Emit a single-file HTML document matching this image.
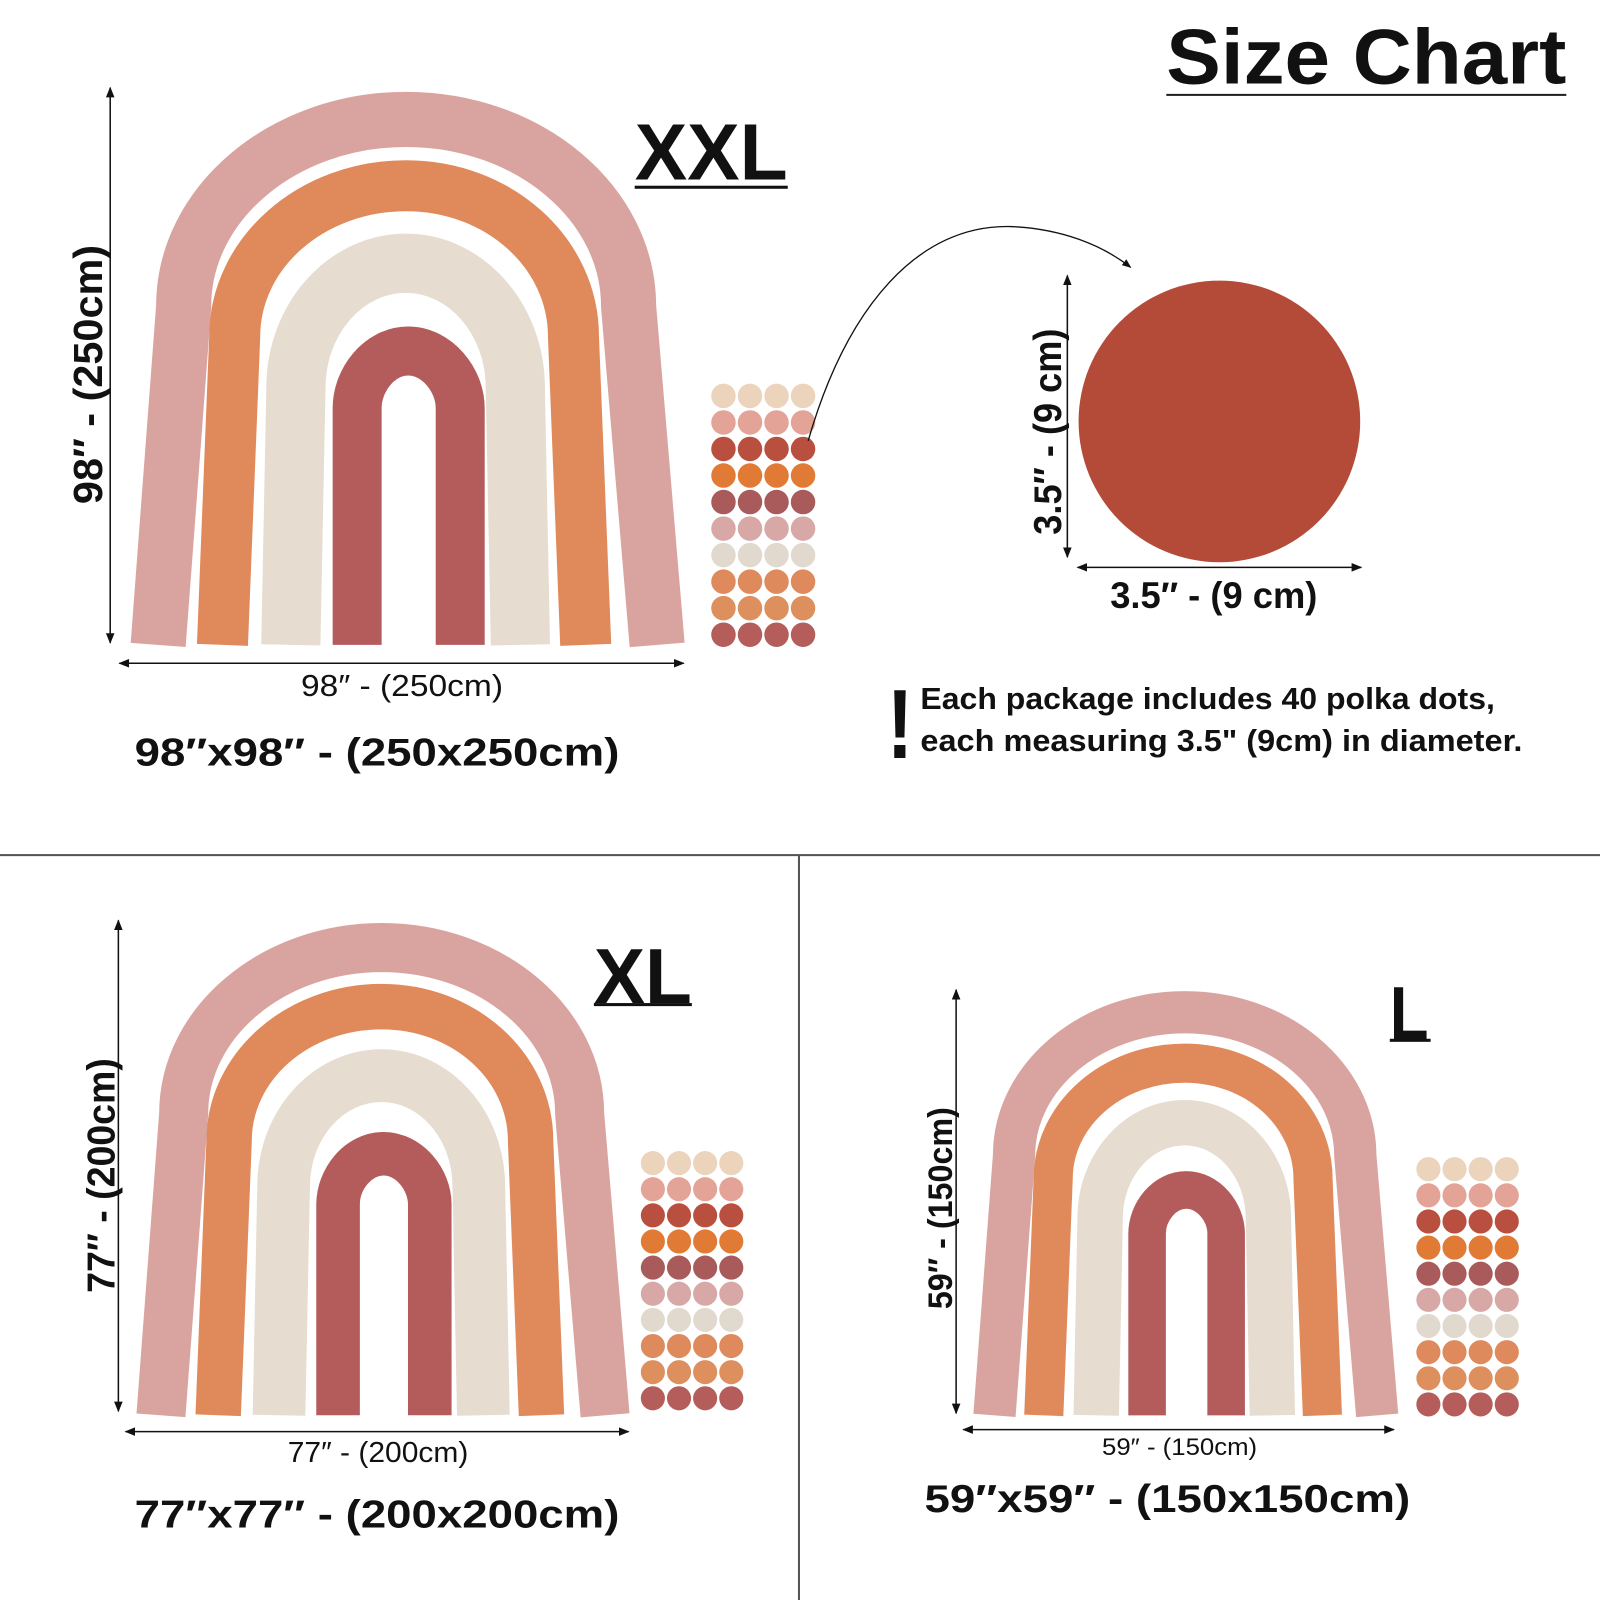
<!DOCTYPE html>
<html><head><meta charset="utf-8"><style>html,body{margin:0;padding:0;background:#fff}svg{display:block}text{font-family:"Liberation Sans",sans-serif;font-weight:bold;fill:#111}</style></head>
<body>
<svg width="1600" height="1600" viewBox="0 0 1568 1568" xmlns="http://www.w3.org/2000/svg">
<defs>
<marker id="ar" viewBox="0 0 10 10" refX="9" refY="5" markerWidth="7" markerHeight="7" orient="auto-start-reverse"><path d="M0,1 L10,5 L0,9 z" fill="#111"/></marker>
<g id="rb" fill="none" stroke-linecap="butt">
<path d="M155,632 L180,300 C180,199 278,117 398,117 C518,117 616,199 616,300 L644,632" stroke="#d9a4a0" stroke-width="54"/>
<path d="M218,632 L230,330 C230,248 305,182 398,182 C489,182 562,248 562,330 L574,632" stroke="#e08a5c" stroke-width="50"/>
<path d="M285,632 L290,380 C290,313 338,258 398,258 C457,258 505,313 505,380 L510,632" stroke="#e6dccf" stroke-width="58"/>
<path d="M350,632 L350,400 C350,372 372,344 400,344 C428,344 451,372 451,400 L451,632" stroke="#b45c5c" stroke-width="48"/>
</g>
<g id="dots">
<g fill="#ecd3bc"><circle cx="12" cy="12" r="12"/><circle cx="38" cy="12" r="12"/><circle cx="64" cy="12" r="12"/><circle cx="90" cy="12" r="12"/></g>
<g fill="#e3a497" transform="translate(0,26)"><circle cx="12" cy="12" r="12"/><circle cx="38" cy="12" r="12"/><circle cx="64" cy="12" r="12"/><circle cx="90" cy="12" r="12"/></g>
<g fill="#b9503f" transform="translate(0,52)"><circle cx="12" cy="12" r="12"/><circle cx="38" cy="12" r="12"/><circle cx="64" cy="12" r="12"/><circle cx="90" cy="12" r="12"/></g>
<g fill="#e07a34" transform="translate(0,78)"><circle cx="12" cy="12" r="12"/><circle cx="38" cy="12" r="12"/><circle cx="64" cy="12" r="12"/><circle cx="90" cy="12" r="12"/></g>
<g fill="#a95a5a" transform="translate(0,104)"><circle cx="12" cy="12" r="12"/><circle cx="38" cy="12" r="12"/><circle cx="64" cy="12" r="12"/><circle cx="90" cy="12" r="12"/></g>
<g fill="#d7a8a6" transform="translate(0,130)"><circle cx="12" cy="12" r="12"/><circle cx="38" cy="12" r="12"/><circle cx="64" cy="12" r="12"/><circle cx="90" cy="12" r="12"/></g>
<g fill="#e2d9ce" transform="translate(0,156)"><circle cx="12" cy="12" r="12"/><circle cx="38" cy="12" r="12"/><circle cx="64" cy="12" r="12"/><circle cx="90" cy="12" r="12"/></g>
<g fill="#de8a5c" transform="translate(0,182)"><circle cx="12" cy="12" r="12"/><circle cx="38" cy="12" r="12"/><circle cx="64" cy="12" r="12"/><circle cx="90" cy="12" r="12"/></g>
<g fill="#dd8f5e" transform="translate(0,208)"><circle cx="12" cy="12" r="12"/><circle cx="38" cy="12" r="12"/><circle cx="64" cy="12" r="12"/><circle cx="90" cy="12" r="12"/></g>
<g fill="#b45d5b" transform="translate(0,234)"><circle cx="12" cy="12" r="12"/><circle cx="38" cy="12" r="12"/><circle cx="64" cy="12" r="12"/><circle cx="90" cy="12" r="12"/></g>
</g>
</defs>

<text x="1143" y="82" font-size="76" textLength="392" lengthAdjust="spacingAndGlyphs">Size Chart</text>
<rect x="1143" y="92" width="392" height="2" fill="#222"/>

<use href="#rb"/>
<use href="#dots" transform="translate(697,376)"/>
<text x="622" y="176" font-size="78" textLength="150" lengthAdjust="spacingAndGlyphs">XXL</text>
<rect x="622" y="182" width="150" height="3" fill="#111"/>
<line x1="108" y1="86" x2="108" y2="630" stroke="#111" stroke-width="1.5" marker-start="url(#ar)" marker-end="url(#ar)"/>
<text transform="translate(100,494) rotate(-90)" font-size="40" textLength="254" lengthAdjust="spacingAndGlyphs">98″ - (250cm)</text>
<line x1="117" y1="650" x2="670" y2="650" stroke="#111" stroke-width="1.5" marker-start="url(#ar)" marker-end="url(#ar)"/>
<text x="295" y="682" font-size="30" textLength="198" lengthAdjust="spacingAndGlyphs" style="font-weight:normal">98″ - (250cm)</text>
<text x="132" y="750" font-size="38" textLength="475" lengthAdjust="spacingAndGlyphs">98″x98″ - (250x250cm)</text>

<path d="M792,432 C830,300 900,220 990,222 C1040,224 1080,240 1108,262" fill="none" stroke="#111" stroke-width="1.3" marker-end="url(#ar)"/>
<circle cx="1195" cy="413" r="138" fill="#b44a38"/>
<line x1="1046" y1="270" x2="1046" y2="546" stroke="#111" stroke-width="1.5" marker-start="url(#ar)" marker-end="url(#ar)"/>
<text transform="translate(1040,524) rotate(-90)" font-size="38" textLength="202" lengthAdjust="spacingAndGlyphs">3.5″ - (9 cm)</text>
<line x1="1056" y1="556" x2="1334" y2="556" stroke="#111" stroke-width="1.5" marker-start="url(#ar)" marker-end="url(#ar)"/>
<text x="1088" y="596" font-size="36" textLength="203" lengthAdjust="spacingAndGlyphs">3.5″ - (9 cm)</text>

<text x="869" y="743" font-size="96" textLength="26" lengthAdjust="spacingAndGlyphs">!</text>
<text x="902" y="695" font-size="30" textLength="563" lengthAdjust="spacingAndGlyphs">Each package includes 40 polka dots,</text>
<text x="902" y="736" font-size="30" textLength="590" lengthAdjust="spacingAndGlyphs">each measuring 3.5" (9cm) in diameter.</text>

<rect x="0" y="837" width="1568" height="2" fill="#555"/>
<rect x="782" y="838" width="2" height="730" fill="#555"/>

<use href="#rb" transform="translate(19.8,824.5) scale(0.89)"/>
<use href="#dots" transform="translate(628,1128) scale(0.985)"/>
<text x="582" y="983" font-size="76" textLength="96" lengthAdjust="spacingAndGlyphs">XL</text>
<rect x="582" y="983" width="96" height="3" fill="#111"/>
<line x1="116" y1="902" x2="116" y2="1383" stroke="#111" stroke-width="1.5" marker-start="url(#ar)" marker-end="url(#ar)"/>
<text transform="translate(112,1267) rotate(-90)" font-size="38" textLength="230" lengthAdjust="spacingAndGlyphs">77″ - (200cm)</text>
<line x1="123" y1="1403" x2="616" y2="1403" stroke="#111" stroke-width="1.5" marker-start="url(#ar)" marker-end="url(#ar)"/>
<text x="282" y="1433" font-size="28" textLength="177" lengthAdjust="spacingAndGlyphs" style="font-weight:normal">77″ - (200cm)</text>
<text x="132" y="1497" font-size="38" textLength="475" lengthAdjust="spacingAndGlyphs">77″x77″ - (200x200cm)</text>

<use href="#rb" transform="translate(855.7,902.3) scale(0.767)"/>
<use href="#dots" transform="translate(1388,1134) scale(0.985)"/>
<text x="1362" y="1018" font-size="74" textLength="38" lengthAdjust="spacingAndGlyphs">L</text>
<rect x="1362" y="1018" width="40" height="3" fill="#111"/>
<line x1="937" y1="970" x2="937" y2="1385" stroke="#111" stroke-width="1.5" marker-start="url(#ar)" marker-end="url(#ar)"/>
<text transform="translate(933,1283) rotate(-90)" font-size="34" textLength="198" lengthAdjust="spacingAndGlyphs">59″ - (150cm)</text>
<line x1="944" y1="1401" x2="1366" y2="1401" stroke="#111" stroke-width="1.5" marker-start="url(#ar)" marker-end="url(#ar)"/>
<text x="1080" y="1426" font-size="24" textLength="152" lengthAdjust="spacingAndGlyphs" style="font-weight:normal">59″ - (150cm)</text>
<text x="906" y="1482" font-size="38" textLength="476" lengthAdjust="spacingAndGlyphs">59″x59″ - (150x150cm)</text>
</svg>
</body></html>
